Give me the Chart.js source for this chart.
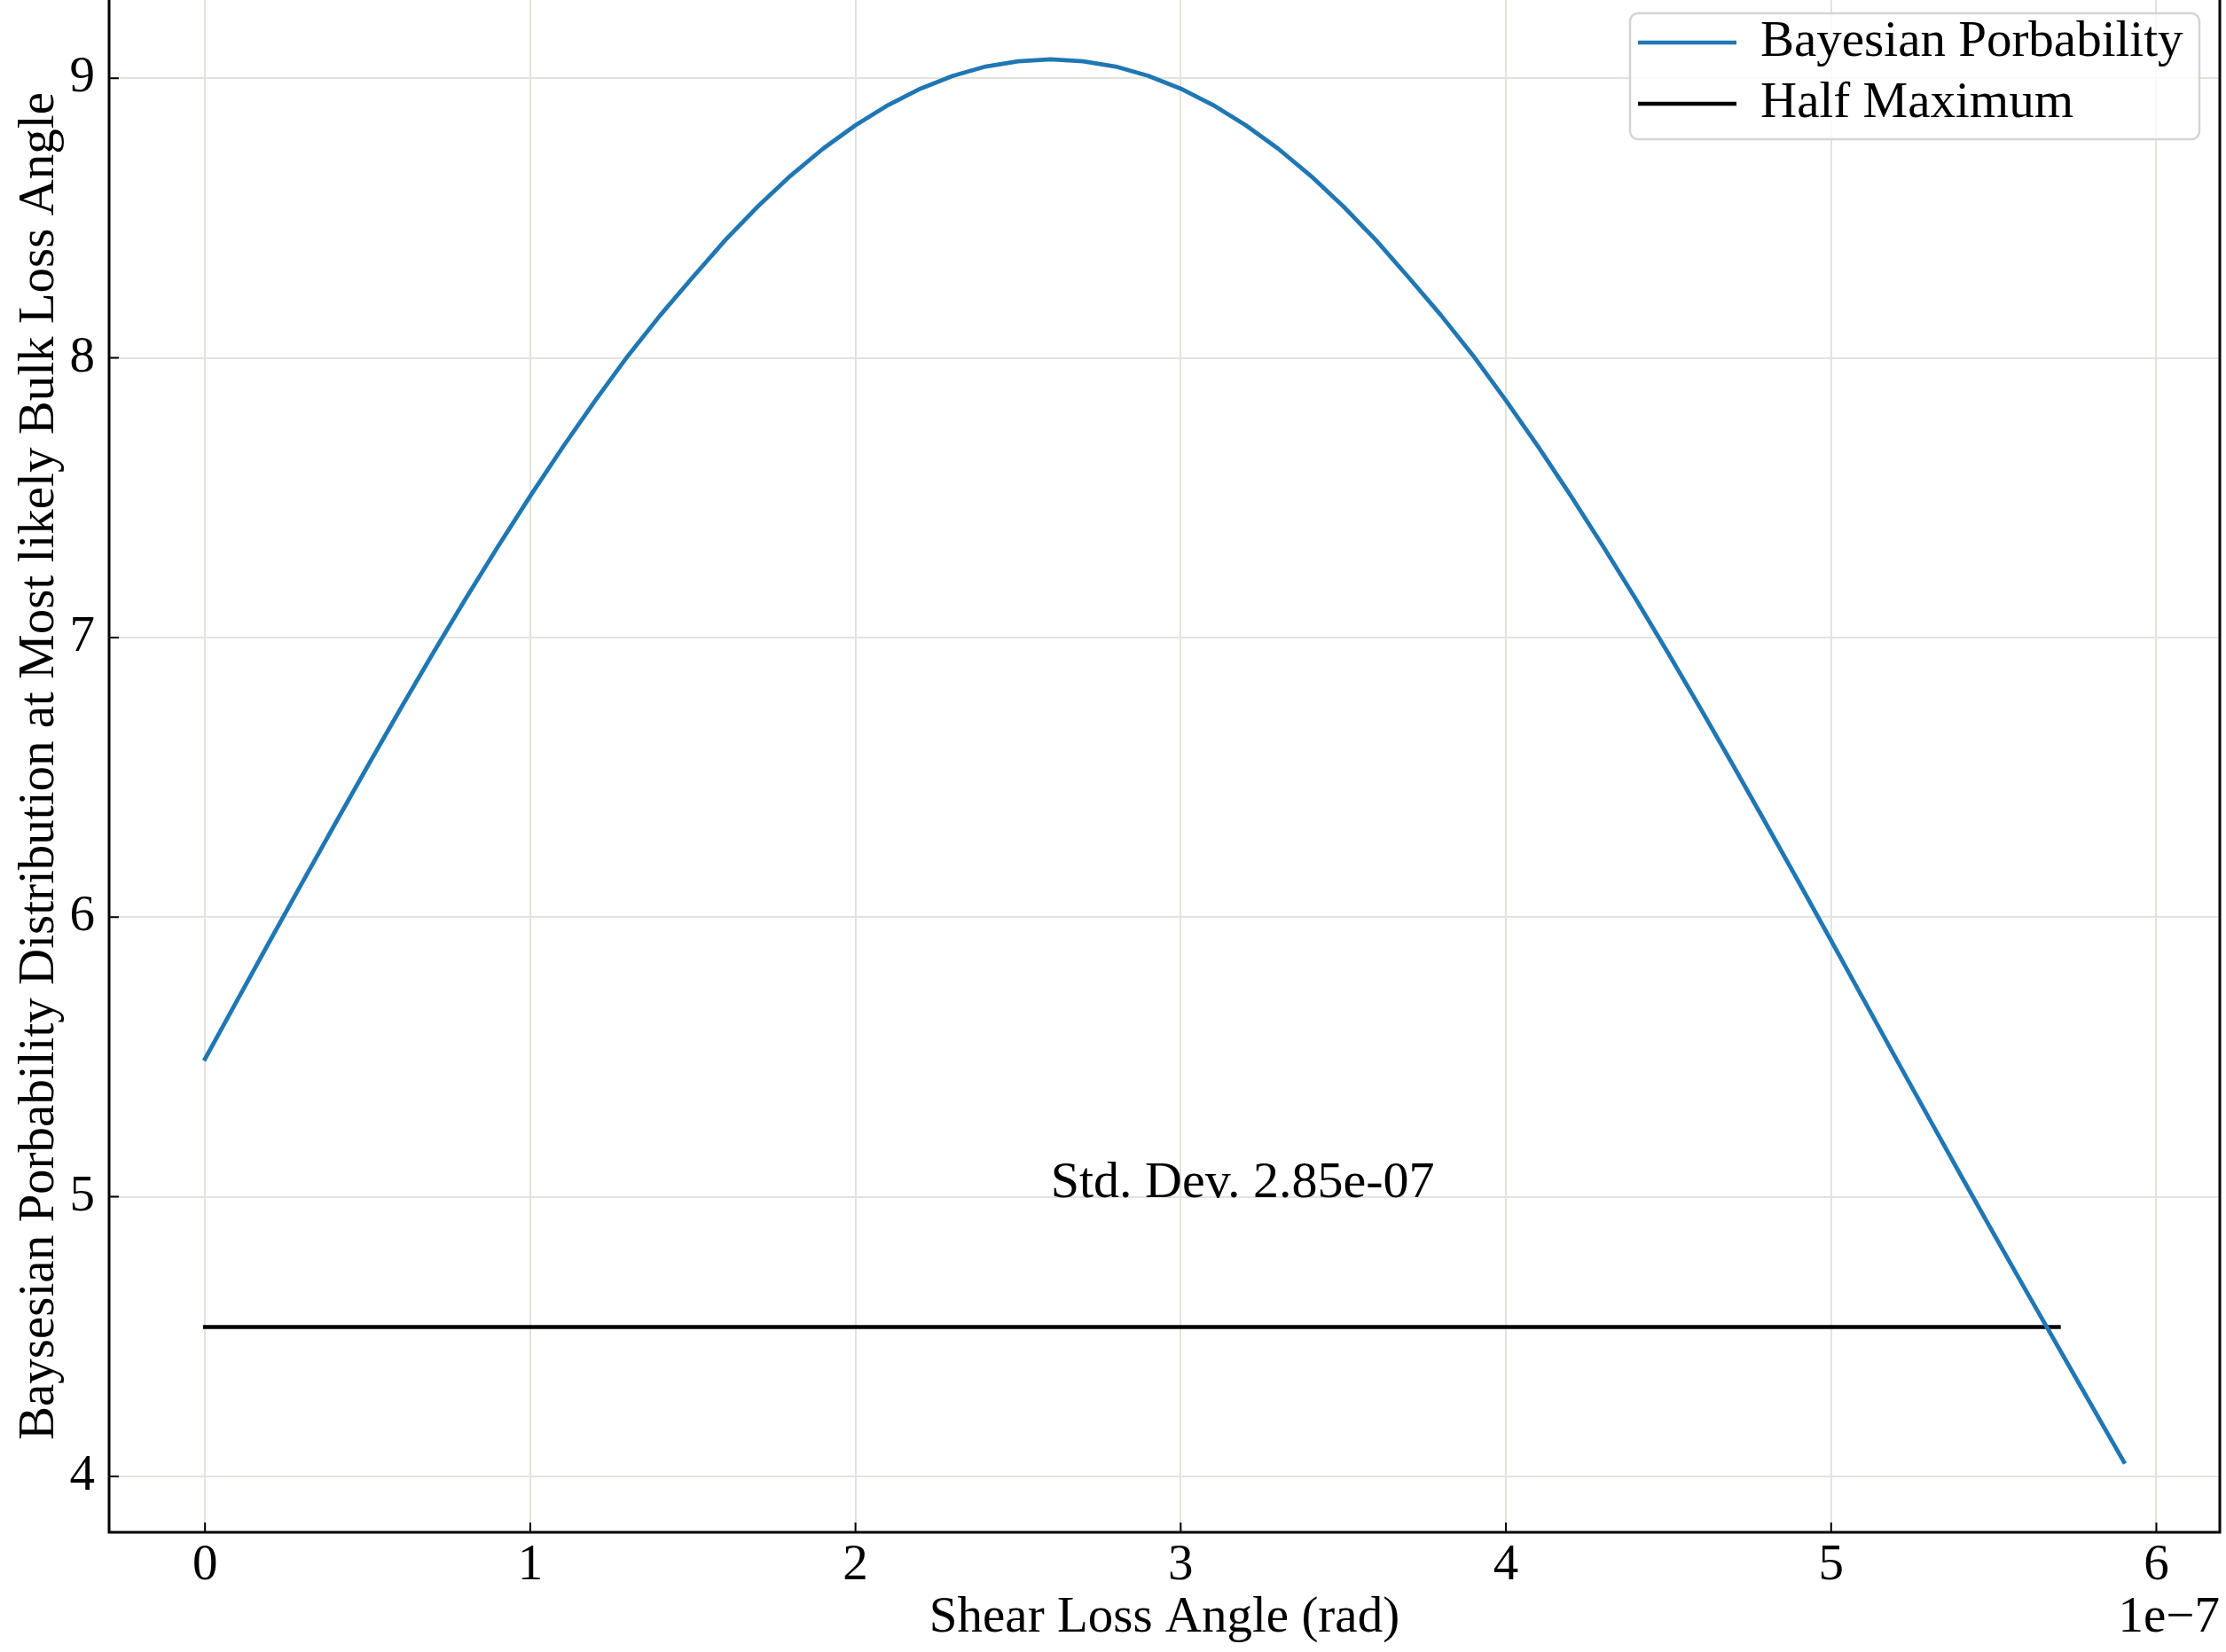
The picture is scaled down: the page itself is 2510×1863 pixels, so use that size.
<!DOCTYPE html>
<html>
<head>
<meta charset="utf-8">
<title>Bayesian probability vs shear loss angle</title>
<script src="https://cdn.jsdelivr.net/npm/chart.js@4.4.1/dist/chart.umd.min.js"></script>
<style>
  html, body { margin: 0; padding: 0; background: #fff; }
  #chart { display: block; }
</style>
</head>
<body>
<canvas id="chart" width="2510" height="1863"></canvas>
<script>
// shear loss angle, in units of 1e-7 rad
const shearAngle = [
  0.0, 0.1, 0.2, 0.3, 0.4, 0.5, 0.6, 0.7, 0.8, 0.9,
  1.0, 1.1, 1.2, 1.3, 1.4, 1.5, 1.6, 1.7, 1.8, 1.9,
  2.0, 2.1, 2.2, 2.3, 2.4, 2.5, 2.6, 2.7, 2.8, 2.9,
  3.0, 3.1, 3.2, 3.3, 3.4, 3.5, 3.6, 3.7, 3.8, 3.9,
  4.0, 4.1, 4.2, 4.3, 4.4, 4.5, 4.6, 4.7, 4.8, 4.9,
  5.0, 5.1, 5.2, 5.3, 5.4, 5.5, 5.6, 5.7, 5.8, 5.9
];
const bayesProb = [
  5.493, 5.705, 5.916, 6.126, 6.334, 6.540, 6.743, 6.942, 7.136, 7.324,
  7.506, 7.681, 7.848, 8.007, 8.153, 8.289, 8.422, 8.542, 8.651, 8.748,
  8.832, 8.904, 8.963, 9.009, 9.042, 9.061, 9.068, 9.061, 9.042, 9.009,
  8.963, 8.904, 8.832, 8.748, 8.651, 8.542, 8.422, 8.289, 8.153, 8.007,
  7.848, 7.681, 7.506, 7.324, 7.136, 6.942, 6.743, 6.540, 6.334, 6.126,
  5.916, 5.705, 5.493, 5.283, 5.074, 4.867, 4.662, 4.459, 4.255, 4.052
];
const halfMaxX = [0, 5.7];
const halfMaxY = [4.534, 4.534];

const xTicks = [0, 1, 2, 3, 4, 5, 6];
const yTicks = [4, 5, 6, 7, 8, 9];
const xOffsetLabel = "1e\u22127";
const stdDevText = "Std. Dev. 2.85e-07";
const stdDevAt = [2.6, 5.0];

const FONT = '"Liberation Serif", "Times New Roman", serif';
const FS = 57;
const GRID = "#e3e3de";

const toPoints = (xs, ys) => xs.map((x, i) => ({ x: x, y: ys[i] }));

// spines, inward ticks, offset text, annotation and legend box
const overlay = {
  id: "overlay",
  afterDraw(chart) {
    const { ctx, chartArea: a, scales } = chart;
    const sx = scales.x, sy = scales.y;
    ctx.save();

    ctx.strokeStyle = "#000";
    ctx.lineWidth = 3;
    ctx.beginPath();
    ctx.moveTo(a.left, a.top);
    ctx.lineTo(a.left, a.bottom);
    ctx.lineTo(a.right, a.bottom);
    ctx.lineTo(a.right, a.top);
    ctx.stroke();

    ctx.lineWidth = 2;
    ctx.beginPath();
    xTicks.forEach((t) => {
      const px = sx.getPixelForValue(t);
      ctx.moveTo(px, a.bottom);
      ctx.lineTo(px, a.bottom - 11);
    });
    yTicks.forEach((t) => {
      const py = sy.getPixelForValue(t);
      ctx.moveTo(a.left, py);
      ctx.lineTo(a.left + 11, py);
    });
    ctx.stroke();

    ctx.fillStyle = "#000";
    ctx.font = FS + "px " + FONT;
    ctx.textAlign = "right";
    ctx.textBaseline = "middle";
    ctx.fillText(xOffsetLabel, a.right, 1825);

    ctx.textAlign = "left";
    ctx.textBaseline = "alphabetic";
    ctx.font = "58px " + FONT;
    ctx.fillText(stdDevText, sx.getPixelForValue(stdDevAt[0]), sy.getPixelForValue(stdDevAt[1]));
    ctx.font = FS + "px " + FONT;

    // legend
    const bx = 1838, by = 15, bw = 642, bh = 142;
    ctx.fillStyle = "rgba(255,255,255,0.8)";
    ctx.strokeStyle = "#d4d4d4";
    ctx.lineWidth = 2.5;
    ctx.beginPath();
    ctx.roundRect(bx, by, bw, bh, 9);
    ctx.fill();
    ctx.stroke();

    const rows = [48, 117];
    chart.data.datasets.forEach((ds, i) => {
      ctx.strokeStyle = ds.borderColor;
      ctx.lineWidth = 4.5;
      ctx.beginPath();
      ctx.moveTo(1847, rows[i]);
      ctx.lineTo(1958, rows[i]);
      ctx.stroke();
      ctx.fillStyle = "#000";
      ctx.textBaseline = "middle";
      ctx.fillText(ds.label, 1985, rows[i]);
    });
    ctx.restore();
  }
};

new Chart(document.getElementById("chart"), {
  type: "line",
  data: {
    datasets: [
      {
        label: "Bayesian Porbability",
        data: toPoints(shearAngle, bayesProb),
        borderColor: "#1f77b4",
        borderWidth: 4.8,
        pointRadius: 0,
        borderJoinStyle: "round",
        borderCapStyle: "square",
        tension: 0
      },
      {
        label: "Half Maximum",
        data: toPoints(halfMaxX, halfMaxY),
        borderColor: "#000000",
        borderWidth: 4.5,
        pointRadius: 0,
        borderCapStyle: "square",
        tension: 0
      }
    ]
  },
  options: {
    responsive: false,
    maintainAspectRatio: false,
    animation: false,
    layout: { padding: { left: 0, right: 7, top: 0, bottom: 0 } },
    plugins: {
      legend: { display: false },
      tooltip: { enabled: false }
    },
    scales: {
      x: {
        type: "linear",
        min: -0.295,
        max: 6.195,
        afterBuildTicks: (s) => { s.ticks = xTicks.map((v) => ({ value: v })); },
        afterFit: (s) => { s.height = 135; s.paddingLeft = 0; s.paddingRight = 0; },
        border: { display: false },
        grid: { color: GRID, lineWidth: 2, drawTicks: false },
        ticks: {
          color: "#000",
          padding: 4,
          maxRotation: 0,
          font: { family: FONT, size: FS },
          callback: (v) => String(v)
        },
        title: {
          display: true,
          text: "Shear Loss Angle (rad)",
          color: "#000",
          font: { family: FONT, size: FS },
          padding: { top: 0, bottom: 4 }
        }
      },
      y: {
        min: 3.80,
        max: 9.28,
        afterBuildTicks: (s) => { s.ticks = yTicks.map((v) => ({ value: v })); },
        afterFit: (s) => { s.width = 123; s.paddingTop = 0; s.paddingBottom = 0; },
        border: { display: false },
        grid: { color: GRID, lineWidth: 2, drawTicks: false },
        ticks: {
          color: "#000",
          padding: 16,
          font: { family: FONT, size: FS },
          callback: (v) => String(v)
        },
        title: {
          display: true,
          text: "Baysesian Porbability Distribution at Most likely Bulk Loss Angle",
          color: "#000",
          font: { family: FONT, size: FS },
          padding: { top: 11, bottom: 0 }
        }
      }
    }
  },
  plugins: [overlay]
});
</script>
</body>
</html>
